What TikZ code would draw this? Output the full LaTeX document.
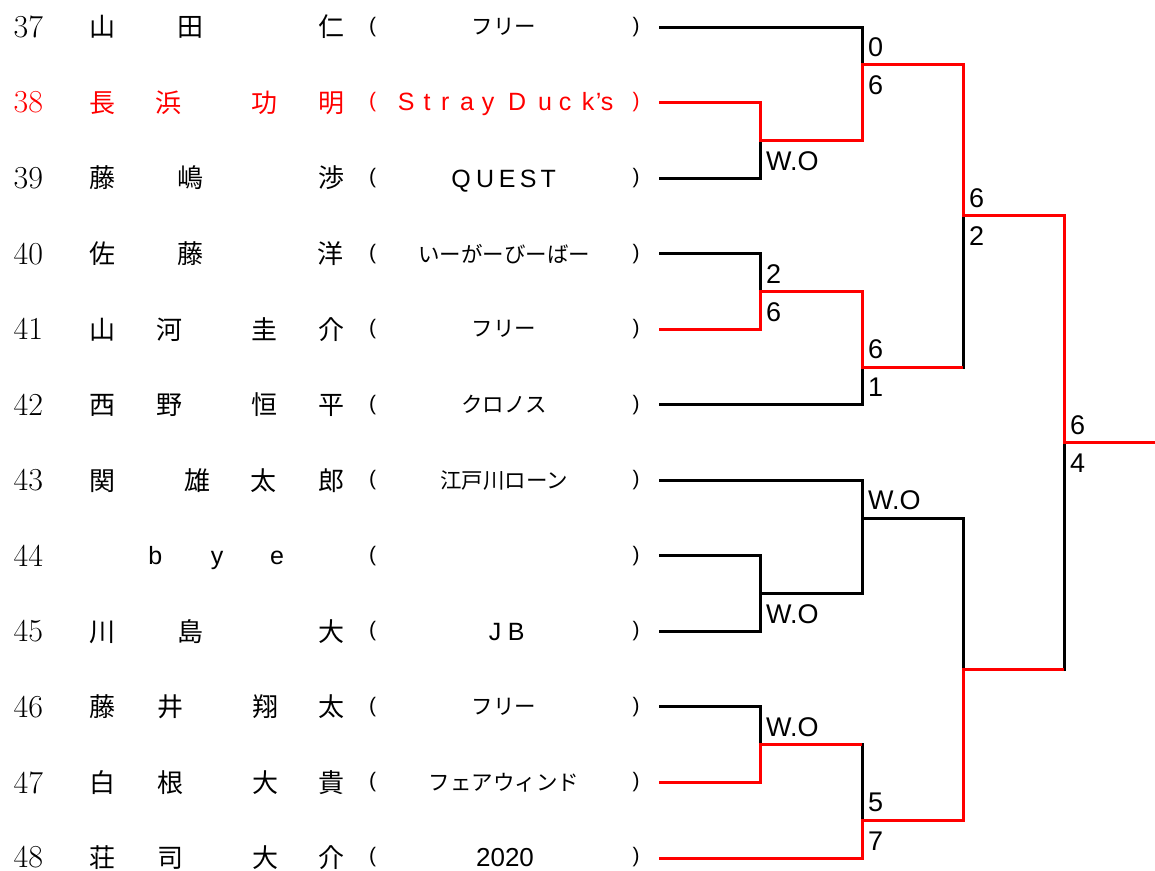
\documentclass[tikz,border=0pt]{standalone}
\usepackage{fontspec}
\newfontfamily\jp{Noto Sans CJK JP}
\newfontfamily\lsans{Liberation Sans}
\newcommand\atx[2]{\rlap{\hspace*{#1pt}\makebox[0pt]{#2}}}
\begin{document}
\begin{tikzpicture}[x=1pt,y=-1pt,
  num/.style={anchor=west, inner sep=0pt, font=\fontsize{32}{35}\selectfont},
  nm/.style={anchor=west, inner sep=0pt, font=\jp\fontsize{26}{30}\selectfont},
  lat/.style={anchor=base west, inner sep=0pt, font=\lsans\fontsize{25}{28}\selectfont},
  team/.style={inner sep=0pt, font=\jp\fontsize{21.5}{24}\selectfont},
  par/.style={inner sep=0pt, font=\lsans\fontsize{21}{24}\selectfont},
  score/.style={inner sep=0pt, font=\lsans\fontsize{27}{30}\selectfont},
  scup/.style={score, anchor=south west, xshift=6pt, yshift=8pt},
  scdn/.style={score, anchor=north west, xshift=6pt, yshift=-11pt},
  arm/.style={line width=3pt, draw=black},
  win/.style={line width=3pt, draw=red},
  hot/.style={text=red}]
\useasboundingbox (0,0) rectangle (1155,870);

% ---------- numbers ----------
\node[num] (n37) at (13.5,27) {37};
\node[num,hot] (n38) at (13.5,102.55) {38};
\node[num] (n39) at (13.5,178.1) {39};
\node[num] (n40) at (13.5,253.65) {40};
\node[num] (n41) at (13.5,329.2) {41};
\node[num] (n42) at (13.5,404.75) {42};
\node[num] (n43) at (13.5,480.3) {43};
\node[num] (n44) at (13.5,555.85) {44};
\node[num] (n45) at (13.5,631.4) {45};
\node[num] (n46) at (13.5,706.95) {46};
\node[num] (n47) at (13.5,782.5) {47};
\node[num] (n48) at (13.5,856.8) {48};

% ---------- names ----------
\node[nm] (p37) at (102,27) {\atx{0}{山}\atx{88}{田}\atx{229}{仁}\hspace*{229pt}};
\node[nm,hot] (p38) at (102,102.55) {\atx{0}{長}\atx{66}{浜}\atx{162}{功}\atx{229}{明}\hspace*{229pt}};
\node[nm] (p39) at (102,178.1) {\atx{0}{藤}\atx{88}{嶋}\atx{229}{渉}\hspace*{229pt}};
\node[nm] (p40) at (102,253.65) {\atx{0}{佐}\atx{88}{藤}\atx{228}{洋}\hspace*{229pt}};
\node[nm] (p41) at (102,329.2) {\atx{0}{山}\atx{67}{河}\atx{162}{圭}\atx{229}{介}\hspace*{229pt}};
\node[nm] (p42) at (102,404.75) {\atx{0}{西}\atx{67}{野}\atx{162}{恒}\atx{229}{平}\hspace*{229pt}};
\node[nm] (p43) at (102,480.3) {\atx{0}{関}\atx{95}{雄}\atx{161}{太}\atx{229}{郎}\hspace*{229pt}};
\node[lat] (p44) at (155,564) {\atx{0}{b}\atx{62}{y}\atx{122}{e}\hspace*{122pt}};
\node[nm] (p45) at (102,631.4) {\atx{0}{川}\atx{88}{島}\atx{229}{大}\hspace*{229pt}};
\node[nm] (p46) at (102,706.95) {\atx{0}{藤}\atx{68}{井}\atx{163}{翔}\atx{229}{太}\hspace*{229pt}};
\node[nm] (p47) at (102,782.5) {\atx{0}{白}\atx{68}{根}\atx{163}{大}\atx{229}{貴}\hspace*{229pt}};
\node[nm] (p48) at (102,857.5) {\atx{0}{荘}\atx{68}{司}\atx{163}{大}\atx{229}{介}\hspace*{229pt}};

% ---------- parentheses ----------
\node[par] (l37) at (372.5,27) {(};       \node[par] (r37) at (636,27) {)};
\node[par,hot] (l38) at (372.5,102.55) {(}; \node[par,hot] (r38) at (636,102.55) {)};
\node[par] (l39) at (372.5,178.1) {(};     \node[par] (r39) at (636,178.1) {)};
\node[par] (l40) at (372.5,253.65) {(};    \node[par] (r40) at (636,253.65) {)};
\node[par] (l41) at (372.5,329.2) {(};     \node[par] (r41) at (636,329.2) {)};
\node[par] (l42) at (372.5,404.75) {(};    \node[par] (r42) at (636,404.75) {)};
\node[par] (l43) at (372.5,480.3) {(};     \node[par] (r43) at (636,480.3) {)};
\node[par] (l44) at (372.5,555.85) {(};    \node[par] (r44) at (636,555.85) {)};
\node[par] (l45) at (372.5,631.4) {(};     \node[par] (r45) at (636,631.4) {)};
\node[par] (l46) at (372.5,706.95) {(};    \node[par] (r46) at (636,706.95) {)};
\node[par] (l47) at (372.5,782.5) {(};     \node[par] (r47) at (636,782.5) {)};
\node[par] (l48) at (372.5,857.5) {(};     \node[par] (r48) at (636,857.5) {)};

% ---------- teams ----------
\node[team] (t37) at (504,27) {フリー};
\node[lat,hot] (t38) at (406,110) {\atx{0}{S}\atx{21}{t}\atx{39}{r}\atx{61}{a}\atx{82}{y}\atx{111}{D}\atx{139}{u}\atx{159}{c}\atx{182}{k}\atx{192.5}{’}\atx{201}{s}\hspace*{201pt}};
\node[lat] (t39) at (461,187) {\atx{0}{Q}\atx{24}{U}\atx{46}{E}\atx{67}{S}\atx{87}{T}\hspace*{87pt}};
\node[team] (t40) at (504,253.65) {いーがーびーばー};
\node[team] (t41) at (504,329.2) {フリー};
\node[team] (t42) at (504,404.75) {クロノス};
\node[team] (t43) at (504,480.3) {江戸川ローン};
\node[lat] (t45) at (495,640.4) {\atx{0}{J}\atx{21}{B}\hspace*{21pt}};
\node[team] (t46) at (504,706.95) {フリー};
\node[team] (t47) at (504,782.5) {フェアウィンド};
\node[score, font=\lsans\fontsize{26}{29}\selectfont] (t48) at (505,857.5) {2020};

% ---------- bracket points ----------
\coordinate (s37) at (659,27);
\coordinate (s38) at (659,102.55);
\coordinate (s39) at (659,178.1);
\coordinate (s40) at (659,253.65);
\coordinate (s41) at (659,329.2);
\coordinate (s42) at (659,404.75);
\coordinate (s43) at (659,480.3);
\coordinate (s44) at (659,555.85);
\coordinate (s45) at (659,631.4);
\coordinate (s46) at (659,706.95);
\coordinate (s47) at (659,782.5);
\coordinate (s48) at (659,858.05);
\coordinate (a1) at (760,140.3);
\coordinate (b1) at (862,64.8);
\coordinate (a2) at (760,291.4);
\coordinate (b2) at (862,367.0);
\coordinate (c1) at (963,215.9);
\coordinate (a3) at (760,593.6);
\coordinate (b3) at (862,518.1);
\coordinate (a4) at (760,744.7);
\coordinate (b4) at (862,820.3);
\coordinate (c2) at (963,669.2);
\coordinate (d) at (1064,442.5);
\coordinate (fin) at (1155,442.5);

% ---------- black arms ----------
\draw[arm] (s38) -| (a1); \draw[arm] (s39) -| (a1);
\draw[arm] (s37) -| (b1); \draw[arm] (a1) -| (b1);
\draw[arm] (s40) -| (a2); \draw[arm] (s41) -| (a2);
\draw[arm] (a2) -| (b2); \draw[arm] (s42) -| (b2);
\draw[arm] (b1) -| (c1); \draw[arm] (b2) -| (c1);
\draw[arm] (s44) -| (a3); \draw[arm] (s45) -| (a3);
\draw[arm] (s43) -| (b3); \draw[arm] (a3) -| (b3);
\draw[arm] (s46) -| (a4); \draw[arm] (s47) -| (a4);
\draw[arm] (a4) -| (b4); \draw[arm] (s48) -| (b4);
\draw[arm] (b3) -| (c2); \draw[arm] (b4) -| (c2);
\draw[arm] (c1) -| (d); \draw[arm] (c2) -| (d);

% ---------- winners ----------
\draw[win] (s38) -| (a1) -| (b1) -| (c1) -| (d) -- (fin);
\draw[win] (s41) -| (a2) -| (b2) -- (b2 -| c1);
\draw[win] (s47) -| (a4) -- (a4 -| b4);
\draw[win] (s48) -| (b4) -| (c2) -- (c2 -| d);

% ---------- scores ----------
\node[scdn] (k1) at (a1) {W.O};
\node[scup] (k2) at (b1) {0};
\node[scdn] (k3) at (b1) {6};
\node[scup] (k4) at (a2) {2};
\node[scdn] (k5) at (a2) {6};
\node[scup] (k6) at (b2) {6};
\node[scdn] (k7) at (b2) {1};
\node[scup] (k8) at (c1) {6};
\node[scdn] (k9) at (c1) {2};
\node[scup] (k10) at (d) {6};
\node[scdn] (k11) at (d) {4};
\node[scup] (k12) at (b3) {W.O};
\node[scdn] (k13) at (a3) {W.O};
\node[scup] (k14) at (a4) {W.O};
\node[scup] (k15) at (b4) {5};
\node[scdn] (k16) at (b4) {7};
\end{tikzpicture}
\end{document}
